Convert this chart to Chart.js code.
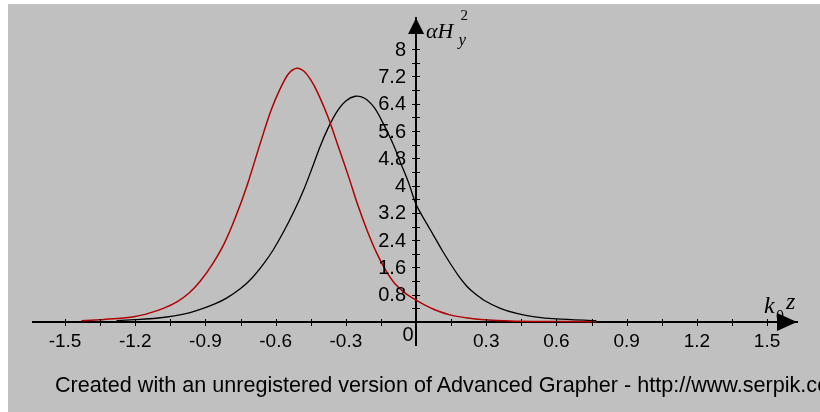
<!DOCTYPE html>
<html>
<head>
<meta charset="utf-8">
<title>Advanced Grapher plot</title>
<script src="https://cdn.jsdelivr.net/npm/chart.js@4.4.0/dist/chart.umd.min.js"></script>
<style>
  html, body { margin: 0; padding: 0; background: #fff; overflow: hidden; }
  #wrap { position: absolute; left: 8px; top: 4px; width: 812px; height: 408px; background: #c0c0c0; overflow: hidden; }
  #graph { position: absolute; left: 0; top: 0; }
  #footer { position: absolute; left: 47px; top: 370px; font: 21.6px "Liberation Sans", Arial, sans-serif; line-height: 1; white-space: nowrap; color: #000; }
</style>
</head>
<body>
<div id="wrap">
  <canvas id="graph" width="812" height="408"></canvas>
  <div id="footer">Created with an unregistered version of Advanced Grapher - http://www.serpik.com</div>
</div>
<script>
// red curve (k0 z, alpha*Hy^2)
const redX = [-1.43, -1.35, -1.28, -1.2, -1.14, -1.08, -1.02, -0.97, -0.92, -0.87, -0.82, -0.77, -0.72, -0.67, -0.62, -0.58, -0.545, -0.51, -0.48, -0.45, -0.42, -0.375, -0.33, -0.29, -0.25, -0.21, -0.17, -0.13, -0.09, -0.045, 0, 0.04, 0.08, 0.145, 0.22, 0.29, 0.4, 0.55, 0.77];
const redY = [0.04, 0.07, 0.1, 0.16, 0.26, 0.4, 0.6, 0.85, 1.22, 1.7, 2.3, 3.1, 4.05, 5.15, 6.2, 6.85, 7.28, 7.44, 7.36, 7.1, 6.72, 5.99, 5.1, 4.3, 3.45, 2.7, 2.05, 1.52, 1.12, 0.84, 0.64, 0.49, 0.36, 0.21, 0.12, 0.07, 0.03, 0.015, 0.01];

// black curve
const blackX = [-1.28, -1.2, -1.11, -1.04, -0.97, -0.91, -0.86, -0.81, -0.75, -0.7, -0.65, -0.61, -0.565, -0.52, -0.48, -0.445, -0.41, -0.375, -0.34, -0.3, -0.26, -0.22, -0.18, -0.15, -0.1, -0.065, -0.03, 0, 0.04, 0.074, 0.11, 0.145, 0.18, 0.217, 0.25, 0.29, 0.36, 0.43, 0.5, 0.6, 0.77];
const blackY = [0.04, 0.07, 0.11, 0.17, 0.27, 0.4, 0.53, 0.7, 0.98, 1.3, 1.72, 2.12, 2.66, 3.27, 3.88, 4.5, 5.15, 5.7, 6.15, 6.48, 6.62, 6.56, 6.3, 5.95, 5.25, 4.65, 4.05, 3.45, 2.95, 2.55, 2.12, 1.73, 1.37, 1.05, 0.84, 0.64, 0.4, 0.25, 0.16, 0.09, 0.04];

// tick marks and their labels ('' = unlabelled tick)
const xTicks = [-1.5, -1.35, -1.2, -1.05, -0.9, -0.75, -0.6, -0.45, -0.3, -0.15, 0.15, 0.3, 0.45, 0.6, 0.75, 0.9, 1.05, 1.2, 1.35, 1.5];
const xTickLabels = ['-1.5', '', '-1.2', '', '-0.9', '', '-0.6', '', '-0.3', '', '', '0.3', '', '0.6', '', '0.9', '', '1.2', '', '1.5'];
const yTicks = [0.4, 0.8, 1.2, 1.6, 2, 2.4, 2.8, 3.2, 3.6, 4, 4.4, 4.8, 5.2, 5.6, 6, 6.4, 6.8, 7.2, 7.6, 8];
const yTickLabels = ['', '0.8', '', '1.6', '', '2.4', '', '3.2', '', '4', '', '4.8', '', '5.6', '', '6.4', '', '7.2', '', '8'];

// visible range of the axes
const xRange = [-1.637, 1.628];
const yRange = [-0.674, 8.915];

const tickFont = { family: '"Liberation Sans", Arial, sans-serif', size: 19 };
const serif = '"Liberation Serif", "Times New Roman", serif';

// Points for the datasets
function toPoints(xs, ys) {
  return xs.map((x, i) => ({ x: x, y: ys[i] }));
}

// Arrows, crossing tick marks, y labels and axis names
const axisDecor = {
  id: 'axisDecor',
  afterDraw(chart) {
    const ctx = chart.ctx;
    const area = chart.chartArea;
    const xs = chart.scales.x;
    const ys = chart.scales.y;
    const x0 = xs.getPixelForValue(0);
    const y0 = ys.getPixelForValue(0);

    ctx.save();
    ctx.strokeStyle = '#000';
    ctx.fillStyle = '#000';
    ctx.lineWidth = 1;

    // tick marks across the axes
    ctx.beginPath();
    xs.ticks.forEach(t => {
      const px = Math.round(xs.getPixelForValue(t.value)) + 0.5;
      ctx.moveTo(px, y0 - 3);
      ctx.lineTo(px, y0 + 4);
    });
    ys.ticks.forEach(t => {
      const py = Math.round(ys.getPixelForValue(t.value)) + 0.5;
      ctx.moveTo(x0 - 4, py);
      ctx.lineTo(x0 + 4, py);
    });
    ctx.stroke();

    // y tick labels, left of the axis (center axes ignore ticks.padding)
    ctx.font = '20px ' + tickFont.family;
    ctx.textAlign = 'right';
    ctx.textBaseline = 'middle';
    ys.ticks.forEach((t, i) => {
      ctx.fillText(yTickLabels[i], x0 - 10, ys.getPixelForValue(t.value) + 1);
    });

    // origin label
    ctx.textAlign = 'center';
    ctx.fillText('0', x0 - 8, y0 + 13);

    // arrow heads
    ctx.beginPath();
    ctx.moveTo(x0, area.top);
    ctx.lineTo(x0 - 8, area.top + 16);
    ctx.lineTo(x0 + 8, area.top + 16);
    ctx.closePath();
    ctx.fill();
    ctx.beginPath();
    ctx.moveTo(area.right, y0);
    ctx.lineTo(area.right - 20, y0 - 9);
    ctx.lineTo(area.right - 20, y0 + 9);
    ctx.closePath();
    ctx.fill();

    // y axis name: alpha H_y^2
    ctx.textAlign = 'left';
    ctx.textBaseline = 'alphabetic';
    ctx.font = 'italic 22px ' + serif;
    const nx = x0 + 10;
    const ny = area.top + 20;
    ctx.fillText('αH', nx, ny);
    const w = ctx.measureText('αH').width;
    ctx.font = '15px ' + serif;
    ctx.fillText('2', nx + w + 7, ny - 18);
    ctx.font = 'italic 17px ' + serif;
    ctx.fillText('y', nx + w + 5, ny + 7);

    // x axis name: k_0 z
    ctx.font = 'italic 24px ' + serif;
    ctx.fillText('k', area.right - 33, y0 - 9);
    ctx.font = '16px ' + serif;
    ctx.fillText('0', area.right - 21, y0 - 1);
    ctx.font = 'italic 24px ' + serif;
    ctx.fillText('z', area.right - 11, y0 - 13);
    ctx.restore();
  }
};

const ctx = document.getElementById('graph').getContext('2d');

new Chart(ctx, {
  type: 'line',
  data: {
    datasets: [
      {
        data: toPoints(redX, redY),
        borderColor: '#b00000',
        borderWidth: 1.5,
        pointRadius: 0,
        tension: 0.3
      },
      {
        data: toPoints(blackX, blackY),
        borderColor: '#000000',
        borderWidth: 1.3,
        pointRadius: 0,
        tension: 0.3
      }
    ]
  },
  options: {
    responsive: false,
    animation: false,
    layout: { padding: { left: 25, right: 23, top: 14, bottom: 67 } },
    plugins: {
      legend: { display: false },
      tooltip: { enabled: false },
      title: { display: false }
    },
    scales: {
      x: {
        type: 'linear',
        min: xRange[0],
        max: xRange[1],
        position: { y: 0 },
        afterBuildTicks: axis => { axis.ticks = xTicks.map(v => ({ value: v })); },
        grid: { drawOnChartArea: false, drawTicks: false },
        border: { display: true, color: '#000', width: 2 },
        ticks: {
          autoSkip: false,
          maxRotation: 0,
          padding: 8,
          color: '#000',
          font: tickFont,
          callback: (v, i) => xTickLabels[i]
        }
      },
      y: {
        type: 'linear',
        min: yRange[0],
        max: yRange[1],
        position: { x: 0 },
        afterBuildTicks: axis => { axis.ticks = yTicks.map(v => ({ value: v })); },
        grid: { drawOnChartArea: false, drawTicks: false },
        border: { display: true, color: '#000', width: 2 },
        ticks: { display: false, padding: 0 }
      }
    }
  },
  plugins: [axisDecor]
});
</script>
</body>
</html>
